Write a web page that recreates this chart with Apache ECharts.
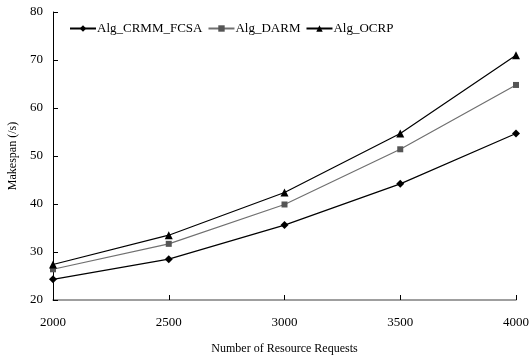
<!DOCTYPE html>
<html><head><meta charset="utf-8">
<script src="https://cdn.jsdelivr.net/npm/echarts@6/dist/echarts.min.js"></script>
<style>html,body{margin:0;padding:0;background:#fff}#c{width:529px;height:356px}</style>
</head><body><div id="c"></div>
<script>
var requests = [2000, 2500, 3000, 3500, 4000];
var crmm = [24.3, 28.5, 35.6, 44.2, 54.7];
var darm = [26.4, 31.7, 39.9, 51.4, 64.8];
var ocrp = [27.4, 33.5, 42.4, 54.7, 71.0];
var names = ['Alg_CRMM_FCSA', 'Alg_DARM', 'Alg_OCRP'];
function pts(v){ return requests.map(function(x,i){ return [x, v[i]]; }); }
var font = 'Liberation Serif';
var chart = echarts.init(document.getElementById('c'));
chart.setOption({
  animation: false,
  backgroundColor: '#fff',
  grid: { left: 53, right: 13, top: 12, bottom: 56, containLabel: false, outerBoundsMode: 'none' },
  legend: {
    left: 64, top: 17, itemWidth: 26, itemHeight: 8, itemGap: 5,
    textStyle: { fontFamily: font, fontSize: 13, color: '#000', padding: [0,0,0,-4] },
    data: names
  },
  xAxis: {
    type: 'value', min: 2000, max: 4000, interval: 500,
    name: 'Number of Resource Requests', nameLocation: 'middle', nameGap: 43,
    nameTextStyle: { fontFamily: font, fontSize: 12, color: '#000' },
    axisLine: { lineStyle: { color: '#808080', width: 1.5 } },
    axisTick: { inside: true, length: 5, lineStyle: { color: '#000' } },
    axisLabel: { fontFamily: font, fontSize: 13, color: '#000', margin: 16,
      formatter: function(v){ return String(v); } },
    splitLine: { show: false }
  },
  yAxis: {
    type: 'value', min: 20, max: 80, interval: 10,
    name: 'Makespan (/s)', nameLocation: 'middle', nameGap: 32,
    nameTextStyle: { fontFamily: font, fontSize: 12, color: '#000' },
    axisLine: { show: true, lineStyle: { color: '#000', width: 1 } },
    axisTick: { show: true, inside: true, length: 5, lineStyle: { color: '#000' } },
    axisLabel: { fontFamily: font, fontSize: 13, color: '#000', margin: 10 },
    splitLine: { show: false }
  },
  series: [
    { name: names[0], type: 'line', data: pts(crmm), symbol: 'diamond', symbolSize: 8,
      itemStyle: { color: '#000' }, lineStyle: { color: '#000', width: 1.2 } },
    { name: names[1], type: 'line', data: pts(darm), symbol: 'rect', symbolSize: 6,
      itemStyle: { color: '#555' }, lineStyle: { color: '#707070', width: 1.2 } },
    { name: names[2], type: 'line', data: pts(ocrp), symbol: 'triangle', symbolSize: 8,
      itemStyle: { color: '#000' }, lineStyle: { color: '#000', width: 1.2 } }
  ]
});
</script></body></html>
